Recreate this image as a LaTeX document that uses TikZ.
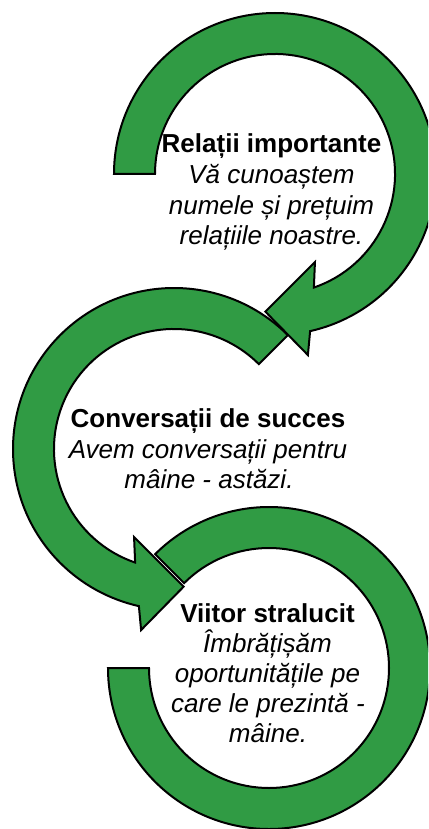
\documentclass[tikz,border=0pt]{standalone}
\usepackage{fontspec}
\setmainfont{Liberation Sans}
\definecolor{arrowgreen}{RGB}{48,155,68}
\tikzset{
  band/.style={fill=arrowgreen, draw=black, line width=2pt, line join=miter},
  title/.style={anchor=base, inner sep=0pt, font=\fontsize{26}{30}\selectfont\bfseries},
  body/.style={anchor=base, inner sep=0pt, font=\fontsize{26}{30}\selectfont\itshape}
}
\begin{document}
\begin{tikzpicture}[x=1pt,y=-1pt]
\useasboundingbox (0,0) rectangle (428,829);
\clip (0,0) rectangle (428,829);
% arrow 3 (bottom, no head)
\begin{scope}[shift={(269,668)}]
\draw[band] (180:161) arc[start angle=180, end angle=-135, radius=161]
  -- (-135:120) arc[start angle=-135, end angle=180, radius=120] -- cycle;
\end{scope}
% arrow 2 (middle)
\begin{scope}[shift={(174,449)}]
\draw[band] (-45:161) arc[start angle=-45, end angle=-257.4, radius=161]
  -- (-259.7:184) -- (-274:138) -- (-245.6:96.7) -- (-251.1:120)
  arc[start angle=-251.1, end angle=-45, radius=120] -- cycle;
\end{scope}
% arrow 1 (top)
\begin{scope}[shift={(275,174)}]
\draw[band] (180:161) arc[start angle=180, end angle=437.4, radius=161]
  -- (439.7:184) -- (454:138) -- (425.6:96.7) -- (431.1:120)
  arc[start angle=431.1, end angle=180, radius=120] -- cycle;
\end{scope}
% texts
\node[title] (t1a) at (271.5,153) {Relații importante};
\node[body]  (t1b) at (271.5,183.5) {Vă cunoaștem};
\node[body]  (t1c) at (271.5,214) {numele și prețuim};
\node[body]  (t1d) at (271.5,244) {relațiile noastre.};
\node[title] (t2a) at (208,427) {Conversații de succes};
\node[body]  (t2b) at (208,458) {Avem conversații pentru};
\node[body]  (t2c) at (209,488) {mâine - astăzi.};
\node[title] (t3a) at (267.5,622) {Viitor stralucit};
\node[body]  (t3b) at (267.5,652) {Îmbrățișăm};
\node[body]  (t3c) at (267.5,682) {oportunitățile pe};
\node[body]  (t3d) at (268,712) {care le prezintă -};
\node[body]  (t3e) at (268,742) {mâine.};
\end{tikzpicture}
\end{document}
